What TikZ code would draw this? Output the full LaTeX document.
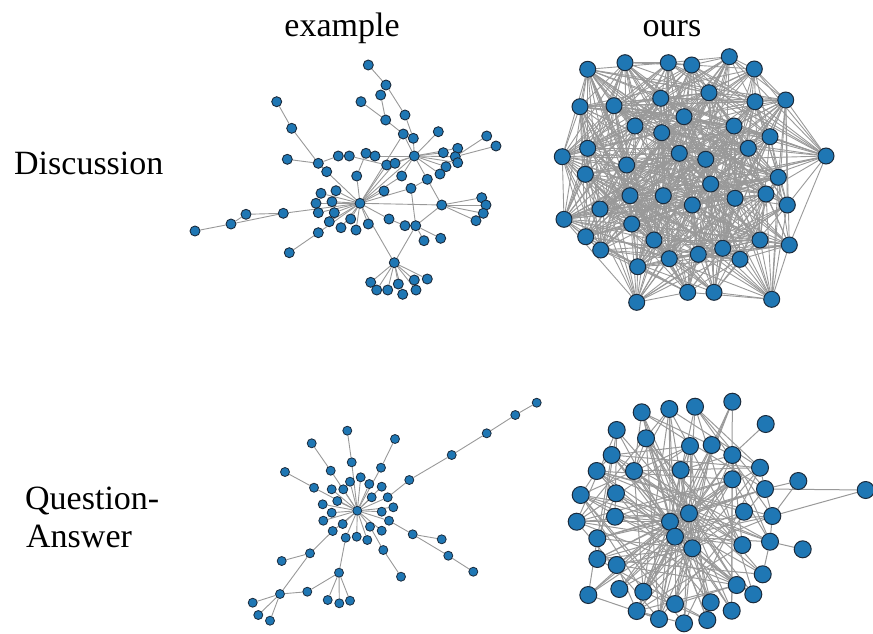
\documentclass[tikz,border=0pt]{standalone}
\usepackage{fontspec}
\setmainfont{Liberation Serif}
\pgfdeclarelayer{bg}
\pgfsetlayers{bg,main}
\definecolor{nb}{HTML}{1F77B4}
\definecolor{nd}{HTML}{1B2B3C}
\definecolor{eg}{HTML}{999999}
\tikzset{
  lab/.style={inner sep=0pt, font=\fontsize{34}{40}\selectfont},
  vsmall/.style={circle, fill=nb, draw=nd, line width=0.8pt, minimum size=9pt, inner sep=0pt},
  vmid/.style={circle, fill=nb, draw=nd, line width=0.9pt, minimum size=10pt, inner sep=0pt},
  vbig/.style={circle, fill=nb, draw=nd, line width=1pt, minimum size=16pt, inner sep=0pt},
  vbigger/.style={circle, fill=nb, draw=nd, line width=1pt, minimum size=17pt, inner sep=0pt},
  ed/.style={draw=eg, line width=0.9pt},
  edd/.style={draw=eg, line width=0.9pt},
  edq/.style={draw=eg, line width=1pt},
}
\begin{document}
\begin{tikzpicture}[x=1pt,y=-1pt]
\useasboundingbox (0,0) rectangle (873,633);
\pgfmathsetseed{17}
% labels
\node[lab, anchor=base] (tex) at (342,36) {example};
\node[lab, anchor=base] (tours) at (672,36) {ours};
\node[lab, anchor=base west] (tdisc) at (14,174) {Discussion};
\node[lab, anchor=base west] (tq) at (25,509) {Question-};
\node[lab, anchor=base west] (ta) at (26,547) {Answer};

% ---------- Graph 1: discussion example ----------
\foreach \n/\x/\y in {
1/368.3/65, 2/386/85, 3/380.7/95, 4/361/101.7, 5/276.7/101.7, 6/405/115, 7/385.7/120,
8/291.7/128.3, 9/403.3/134, 10/413.3/138.3, 11/438.3/131.7, 12/486.7/136, 13/496/146,
14/287.3/159.3, 15/318.3/163.3, 16/326.7/171.7, 17/338.3/156, 18/349.3/156, 19/366/153.3,
20/375/156, 21/386.7/165, 22/395/163.3, 23/414.3/156, 24/443.3/152.7, 25/457.7/148.3,
26/455.3/156.7, 27/457.7/162.7, 28/446/166.7, 29/440/174, 30/356.7/176, 31/401.7/176,
32/427.3/179.3, 33/411/188.3, 34/384/191, 35/321/193.3, 36/336/190.7, 37/316/203.3,
38/332/201.7, 39/360/203.3, 40/318.3/212.7, 41/334.3/212.7, 42/246/214.3, 43/283.3/213.3,
44/231/224, 45/195/231, 46/329.3/221.7, 47/350.7/219, 48/341/227.7, 49/356/230,
50/368.3/224, 51/389/219, 52/441.7/205, 53/481.7/197.7, 54/486/205, 55/483.3/213.3,
56/476/220.7, 57/405/225.7, 58/415.7/225.7, 59/318.3/232.7, 60/424/240.7, 61/440.7/238.3,
62/289.3/252.7, 63/394.3/262.7, 64/370.7/282.3, 65/376.7/290, 66/387.7/290, 67/398.3/284,
68/402.7/294.3, 69/414.3/280, 70/416/290, 71/427.3/279}
  \node[vmid] (e\n) at (\x,\y) {};
\begin{pgfonlayer}{bg}
\foreach \a/\b in {1/2, 2/6, 6/10, 3/7, 4/7, 7/9, 9/23, 10/23, 11/23, 12/26, 13/26,
 23/24, 23/25, 23/26, 23/27, 23/28, 23/29, 20/23, 21/23, 22/23, 19/20, 18/21,
 5/8, 8/15, 14/15, 15/16, 15/17, 16/39, 19/30, 30/39, 21/39, 22/39, 23/39, 9/39,
 31/39, 31/23, 33/39, 34/39, 35/39, 36/39, 37/39, 38/39, 40/39, 41/39, 46/39, 47/39,
 48/39, 49/39, 50/39, 51/39, 52/39, 63/39, 43/39, 59/39,
 32/23, 32/33, 32/52, 33/58, 51/57, 57/58, 58/52, 58/60, 58/61, 58/63,
 63/64, 63/65, 63/66, 63/67, 63/68, 63/69, 63/70, 63/71,
 52/53, 52/54, 52/55, 52/56, 45/44, 44/42, 44/43, 42/43, 62/59}
  \draw[ed] (e\a) -- (e\b);
\end{pgfonlayer}

% ---------- Graph 2: discussion ours ----------
\foreach \n/\x/\y in {
1/587.7/69.3, 2/625/62.7, 3/668.3/62.7, 4/691.7/65, 5/729.3/56.7, 6/754.3/69,
7/580/106.7, 8/614/105.7, 9/660.7/98.3, 10/709/92.7, 11/755/101.7, 12/785.7/100,
13/684/116.7, 14/635/126, 15/661.7/132.7, 16/734/126, 17/770/136.7, 18/587.7/148.3,
19/562.3/156.7, 20/679.3/153.3, 21/705.7/159.3, 22/748.3/148.3, 23/826/156, 24/626.7/165,
25/585.3/174.3, 26/710.7/184, 27/778.3/177.3, 28/630/195.7, 29/663.3/195.7, 30/692.3/205,
31/735/198.3, 32/766/194, 33/787.3/205, 34/600/209, 35/564/219.3, 36/631.7/224,
37/585.7/236.7, 38/654/240, 39/600.7/250, 40/698.3/254.3, 41/722.7/248.3, 42/760/240,
43/789.3/245, 44/669.3/258.7, 45/740/259.3, 46/637.7/266.7, 47/687.7/292.3, 48/714/292.3,
49/636.7/302.3, 50/771.7/299.3}
  \node[vbig] (b\n) at (\x,\y) {};
\begin{pgfonlayer}{bg}
\foreach \i in {1,...,49}{
  \pgfmathtruncatemacro\js{\i+1}
  \foreach \j in {\js,...,50}{
    \pgfpointdiff{\pgfpointanchor{b\i}{center}}{\pgfpointanchor{b\j}{center}}
    \pgfgetlastxy\dx\dy
    \pgfmathsetmacro\pp{0.95-veclen(\dx,\dy)/300}
    \pgfmathsetmacro\rr{rnd}
    \ifdim\rr pt<\pp pt \draw[edd] (b\i) -- (b\j); \fi
  }
}
\end{pgfonlayer}

% ---------- Graph 3: QA example ----------
\foreach \n/\x/\y in {
1/536.7/402.7, 2/515.3/415, 3/486.7/433.3, 4/451.7/455, 5/409.3/480, 6/347.3/430.7,
7/395/439, 8/311.7/443.3, 9/351.7/462.3, 10/381/467.7, 11/285/472, 12/330.7/470.7,
13/350/481.7, 14/360.7/477.3, 15/369.3/484, 16/381.7/486.7, 17/314/487.7, 18/331.7/489.3,
19/343.3/489.3, 20/371.7/497.3, 21/387.7/497.3, 22/337.3/501, 23/322.7/504.3, 24/357.3/510.7,
25/393.3/507.3, 26/381.7/511.7, 27/331.7/512.7, 28/323.3/520.7, 29/389/520.7, 30/342.7/524,
31/370/526.7, 32/381.7/530.7, 33/332.7/531, 34/412.7/534.3, 35/441.7/539.3, 36/345.7/537.7,
37/356.7/536.7, 38/367.3/540, 39/383.3/550, 40/448.3/555.7, 41/310/553.3, 42/281.7/561,
43/473.3/571.7, 44/401/576.7, 45/339/572.7, 46/280/594, 47/307.3/591.7, 48/252.7/602.7,
49/327.7/600, 50/339.3/603.3, 51/350/600.7, 52/258.3/615, 53/270/620.7}
  \node[vsmall] (q\n) at (\x,\y) {};
\begin{pgfonlayer}{bg}
\foreach \a/\b in {1/2, 2/3, 3/4, 4/5, 5/21, 21/24, 6/9, 9/24, 7/10, 10/24, 8/12, 12/24,
 11/17, 17/24, 13/24, 14/24, 15/24, 16/24, 18/24, 19/24, 20/24, 22/24, 23/24, 25/24,
 26/24, 27/24, 28/24, 29/24, 30/24, 31/24, 32/24, 33/24, 36/24, 37/24, 38/24,
 29/34, 34/35, 34/40, 40/43, 31/39, 39/44, 33/41, 41/42, 41/46, 46/48, 46/52, 46/53,
 46/47, 47/45, 45/49, 45/50, 45/51, 45/36}
  \draw[ed] (q\a) -- (q\b);
\end{pgfonlayer}

% ---------- Graph 4: QA ours ----------
\foreach \n/\x/\y in {1/670/521.7, 2/689/513.3, 3/675/536.7, 4/692.3/548.3}
  \node[vbigger] (h\n) at (\x,\y) {};
\foreach \n/\x/\y in {
1/732.3/401.7, 2/641.7/412.3, 3/669.3/409, 4/695/406.7, 5/616.7/430, 6/646/438.3,
7/690/446, 8/711.7/445, 9/732.3/455, 10/611.7/455, 11/760/467.7, 12/596.7/471,
13/634/471, 14/680.7/470, 15/732.3/479.3, 16/765/489, 17/580.7/495, 18/616/493.3,
19/744/511.7, 20/772.3/516, 21/576.7/521.7, 22/615/516.7, 23/597.3/538.3, 24/742.3/545,
25/770/541.7, 26/597.3/559, 27/616.7/565, 28/762.7/574.3, 29/588.3/595, 30/619.3/589,
31/643.3/591.7, 32/736.7/585, 33/753.3/594.3, 34/636.7/611, 35/675/604, 36/710.7/602.3,
37/731.7/610.7, 38/659/619, 39/684/623.3, 40/707.3/620}
  \node[vbigger] (o\n) at (\x,\y) {};
\foreach \n/\x/\y in {1/765.7/424, 2/798.3/481, 3/865.7/490, 4/802.7/549.3}
  \node[vbigger] (s\n) at (\x,\y) {};
\begin{pgfonlayer}{bg}
\foreach \a/\b in {h1/h2, h1/h3, h2/h4, h3/h4, h2/h3,
  s1/o9, s2/o16, s2/o20, s3/o16, s3/o20, s4/o25, o11/o16, o16/o20, o20/o25, o25/o28}
  \draw[edq] (\a) -- (\b);
\foreach \k in {1,...,40}{
  \pgfmathtruncatemacro\hh{mod(\k,4)+1}
  \draw[edq] (o\k) -- (h\hh);
  \foreach \h in {1,...,4}{
    \pgfmathsetmacro\rr{rnd}
    \ifnum\h=\hh\relax\else
      \ifdim\rr pt<0.6pt \draw[edq] (o\k) -- (h\h); \fi
    \fi
  }
}
\foreach \i in {1,...,39}{
  \pgfmathtruncatemacro\js{\i+1}
  \foreach \j in {\js,...,40}{
    \pgfmathsetmacro\rr{rnd}
    \ifdim\rr pt<0.09pt \draw[edq] (o\i) -- (o\j); \fi
  }
}
\end{pgfonlayer}
\end{tikzpicture}
\end{document}
